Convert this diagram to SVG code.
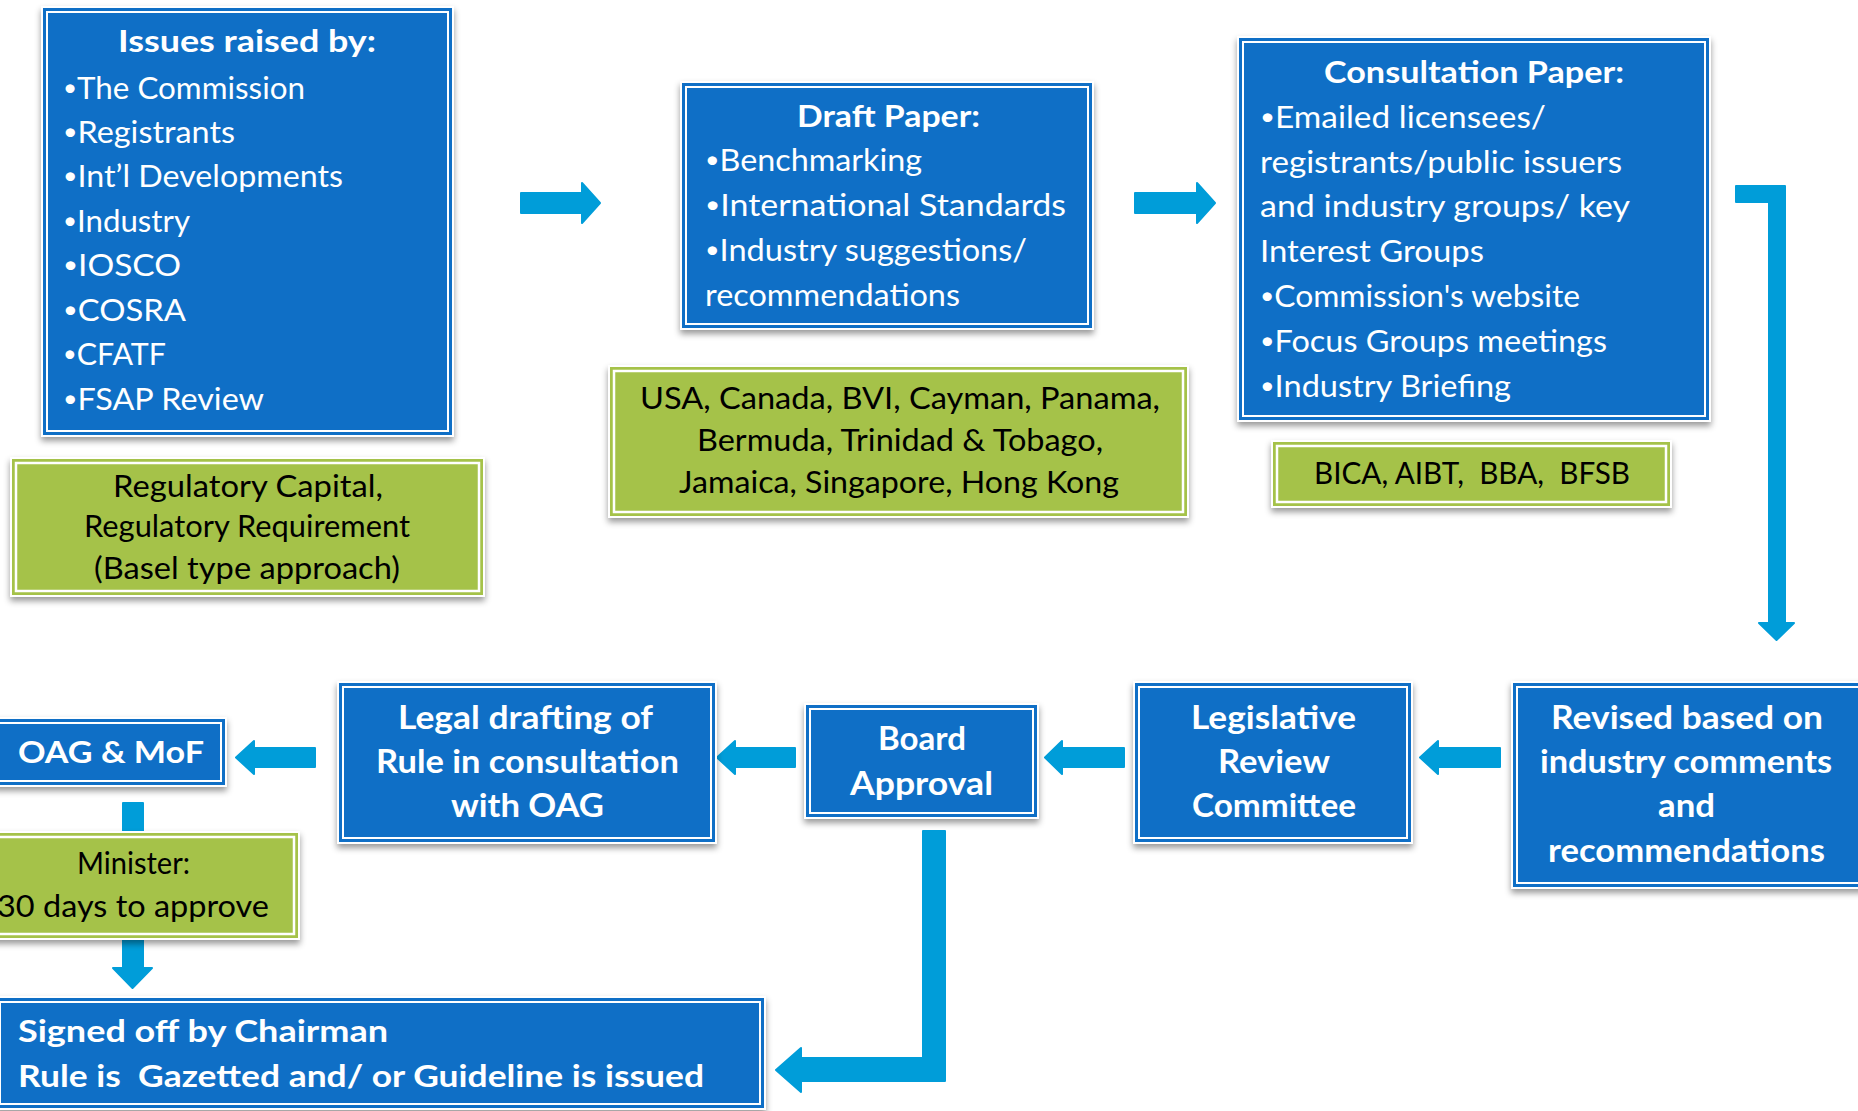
<svg xmlns="http://www.w3.org/2000/svg" width="1858" height="1111" viewBox="0 0 1858 1111">
  <defs>
    <filter id="drop" x="-10%" y="-10%" width="120%" height="130%">
      <feDropShadow dx="0" dy="4" stdDeviation="3" flood-color="#000" flood-opacity="0.4"/>
    </filter>
  </defs>
  <style>
    .halo { fill: #ffffff; filter: url(#drop); }
    .blue { fill: #0F6FC6; }
    .green { fill: #A5C249; }
    .inner { fill: none; stroke: #ffffff; stroke-width: 2; }
    .innerg { fill: none; stroke: #ffffff; stroke-width: 2.5; }
    .arrow { fill: #009DD9; stroke: #009DD9; stroke-width: 2; stroke-linejoin: round; }
    text { font-family: Lato, "Liberation Sans", sans-serif; }
    .w { fill: #ffffff; font-size: 31px; }
    .wb { fill: #ffffff; font-size: 31px; font-weight: bold; }
    .wbb { fill: #ffffff; font-size: 33px; font-weight: bold; }
    .k { fill: #000000; font-size: 31px; }
    .pre { white-space: pre; }
    .bul { font-size: 24px; baseline-shift: 3px; }
  </style>

  <rect width="1858" height="1111" fill="#ffffff"/>

  <!-- connectors -->
  <g id="connectors">
    <path class="arrow" d="M521,193 H582 V183 L600,203 L582,223 V213 H521 Z"/>
    <path class="arrow" d="M1135,193 H1197 V183 L1215,203 L1197,223 V213 H1135 Z"/>
    <path class="arrow" d="M1736,186 H1785 V623 H1794 L1776.5,640 L1759,623 H1769 V202 H1736 Z"/>
    <path class="arrow" d="M1500,748 H1438 V741 L1420,757.5 L1438,774 V767 H1500 Z"/>
    <path class="arrow" d="M1124,748 H1062 V741 L1045,757.5 L1062,774 V767 H1124 Z"/>
    <path class="arrow" d="M795,748 H735 V741 L717,757.5 L735,774 V767 H795 Z"/>
    <path class="arrow" d="M315,748 H254 V741 L236,757.5 L254,774 V767 H315 Z"/>
    <path class="arrow" d="M123,803 H143 V968 H152 L132.5,988 L113,968 H123 Z"/>
    <path class="arrow" d="M923,831 H945 V1081 H801 V1092 L776,1070 L801,1048 V1058 H923 Z"/>
  </g>

  <!-- Issues raised by -->
  <g id="issues">
    <rect class="halo" x="41" y="6" width="413" height="431"/>
    <rect class="blue" x="43" y="8" width="409" height="427"/>
    <rect class="inner" x="47" y="12" width="401" height="419"/>
    <text class="wb" x="118" y="52" textLength="258" lengthAdjust="spacingAndGlyphs">Issues raised by:</text>
    <text class="w" x="63" y="99" textLength="242" lengthAdjust="spacingAndGlyphs"><tspan class="bul">•</tspan>The Commission</text>
    <text class="w" x="63" y="143" textLength="172" lengthAdjust="spacingAndGlyphs"><tspan class="bul">•</tspan>Registrants</text>
    <text class="w" x="63" y="187" textLength="280" lengthAdjust="spacingAndGlyphs"><tspan class="bul">•</tspan>Int’l Developments</text>
    <text class="w" x="63" y="232" textLength="127" lengthAdjust="spacingAndGlyphs"><tspan class="bul">•</tspan>Industry</text>
    <text class="w" x="63" y="276" textLength="118" lengthAdjust="spacingAndGlyphs"><tspan class="bul">•</tspan>IOSCO</text>
    <text class="w" x="63" y="321" textLength="123" lengthAdjust="spacingAndGlyphs"><tspan class="bul">•</tspan>COSRA</text>
    <text class="w" x="63" y="365" textLength="103" lengthAdjust="spacingAndGlyphs"><tspan class="bul">•</tspan>CFATF</text>
    <text class="w" x="63" y="410" textLength="201" lengthAdjust="spacingAndGlyphs"><tspan class="bul">•</tspan>FSAP Review</text>
  </g>

  <!-- Regulatory capital note -->
  <g id="regulatory">
    <rect class="halo" x="10" y="457" width="475" height="140"/>
    <rect class="green" x="12" y="459" width="471" height="136"/>
    <rect class="innerg" x="16" y="463" width="463" height="128"/>
    <text class="k" x="113" y="497" textLength="270" lengthAdjust="spacingAndGlyphs">Regulatory Capital,</text>
    <text class="k" x="84" y="537" textLength="326" lengthAdjust="spacingAndGlyphs">Regulatory Requirement</text>
    <text class="k" x="94" y="579" textLength="306" lengthAdjust="spacingAndGlyphs">(Basel type approach)</text>
  </g>

  <!-- Draft Paper -->
  <g id="draft">
    <rect class="halo" x="680" y="81" width="414" height="249"/>
    <rect class="blue" x="682" y="83" width="410" height="245"/>
    <rect class="inner" x="686" y="87" width="402" height="237"/>
    <text class="wb" x="797" y="127" textLength="183" lengthAdjust="spacingAndGlyphs">Draft Paper:</text>
    <text class="w" x="705" y="171" textLength="217" lengthAdjust="spacingAndGlyphs"><tspan class="bul">•</tspan>Benchmarking</text>
    <text class="w" x="705" y="216" textLength="361" lengthAdjust="spacingAndGlyphs"><tspan class="bul">•</tspan>International Standards</text>
    <text class="w" x="705" y="261" textLength="322" lengthAdjust="spacingAndGlyphs"><tspan class="bul">•</tspan>Industry suggestions/</text>
    <text class="w" x="705" y="306" textLength="255" lengthAdjust="spacingAndGlyphs">recommendations</text>
  </g>

  <!-- Benchmark jurisdictions -->
  <g id="jurisdictions">
    <rect class="halo" x="608" y="365" width="581" height="153"/>
    <rect class="green" x="610" y="367" width="577" height="149"/>
    <rect class="innerg" x="614" y="371" width="569" height="141"/>
    <text class="k" x="640" y="409" textLength="520" lengthAdjust="spacingAndGlyphs">USA, Canada, BVI, Cayman, Panama,</text>
    <text class="k" x="697" y="451" textLength="406" lengthAdjust="spacingAndGlyphs">Bermuda, Trinidad &amp; Tobago,</text>
    <text class="k" x="679" y="493" textLength="440" lengthAdjust="spacingAndGlyphs">Jamaica, Singapore, Hong Kong</text>
  </g>

  <!-- Consultation Paper -->
  <g id="consultation">
    <rect class="halo" x="1237" y="36" width="474" height="386"/>
    <rect class="blue" x="1239" y="38" width="470" height="382"/>
    <rect class="inner" x="1243" y="42" width="462" height="374"/>
    <text class="wb" x="1324" y="83" textLength="300" lengthAdjust="spacingAndGlyphs">Consultation Paper:</text>
    <text class="w" x="1260" y="128" textLength="286" lengthAdjust="spacingAndGlyphs"><tspan class="bul">•</tspan>Emailed licensees/</text>
    <text class="w" x="1260" y="173" textLength="362" lengthAdjust="spacingAndGlyphs">registrants/public issuers</text>
    <text class="w" x="1260" y="217" textLength="370" lengthAdjust="spacingAndGlyphs">and industry groups/ key</text>
    <text class="w" x="1260" y="262" textLength="224" lengthAdjust="spacingAndGlyphs">Interest Groups</text>
    <text class="w" x="1260" y="307" textLength="320" lengthAdjust="spacingAndGlyphs"><tspan class="bul">•</tspan>Commission's website</text>
    <text class="w" x="1260" y="352" textLength="347" lengthAdjust="spacingAndGlyphs"><tspan class="bul">•</tspan>Focus Groups meetings</text>
    <text class="w" x="1260" y="397" textLength="251" lengthAdjust="spacingAndGlyphs"><tspan class="bul">•</tspan>Industry Briefing</text>
  </g>

  <!-- Industry associations -->
  <g id="associations">
    <rect class="halo" x="1271" y="440" width="401" height="68"/>
    <rect class="green" x="1273" y="442" width="397" height="64"/>
    <rect class="innerg" x="1277" y="446" width="389" height="56"/>
    <text class="k pre" x="1314" y="484" textLength="316" lengthAdjust="spacingAndGlyphs">BICA, AIBT,  BBA,  BFSB</text>
  </g>

  <!-- Revised based on comments -->
  <g id="revised">
    <rect class="halo" x="1511" y="681" width="354" height="208"/>
    <rect class="blue" x="1513" y="683" width="350" height="204"/>
    <rect class="inner" x="1517" y="687" width="342" height="196"/>
    <text class="wbb" x="1551" y="729" textLength="272" lengthAdjust="spacingAndGlyphs">Revised based on</text>
    <text class="wbb" x="1540" y="773" textLength="292" lengthAdjust="spacingAndGlyphs">industry comments</text>
    <text class="wbb" x="1658" y="817" textLength="57" lengthAdjust="spacingAndGlyphs">and</text>
    <text class="wbb" x="1548" y="862" textLength="277" lengthAdjust="spacingAndGlyphs">recommendations</text>
  </g>

  <!-- Legislative Review Committee -->
  <g id="legislative">
    <rect class="halo" x="1133" y="681" width="280" height="163"/>
    <rect class="blue" x="1135" y="683" width="276" height="159"/>
    <rect class="inner" x="1139" y="687" width="268" height="151"/>
    <text class="wbb" x="1191" y="729" textLength="165" lengthAdjust="spacingAndGlyphs">Legislative</text>
    <text class="wbb" x="1218" y="773" textLength="112" lengthAdjust="spacingAndGlyphs">Review</text>
    <text class="wbb" x="1192" y="817" textLength="164" lengthAdjust="spacingAndGlyphs">Committee</text>
  </g>

  <!-- Board Approval -->
  <g id="board">
    <rect class="halo" x="804" y="703" width="235" height="116"/>
    <rect class="blue" x="806" y="705" width="231" height="112"/>
    <rect class="inner" x="810" y="709" width="223" height="104"/>
    <text class="wbb" x="878" y="750" textLength="88" lengthAdjust="spacingAndGlyphs">Board</text>
    <text class="wbb" x="850" y="795" textLength="143" lengthAdjust="spacingAndGlyphs">Approval</text>
  </g>

  <!-- Legal drafting -->
  <g id="legal">
    <rect class="halo" x="337" y="681" width="380" height="163"/>
    <rect class="blue" x="339" y="683" width="376" height="159"/>
    <rect class="inner" x="343" y="687" width="368" height="151"/>
    <text class="wbb" x="398" y="729" textLength="255" lengthAdjust="spacingAndGlyphs">Legal drafting of</text>
    <text class="wbb" x="376" y="773" textLength="303" lengthAdjust="spacingAndGlyphs">Rule in consultation</text>
    <text class="wbb" x="451" y="817" textLength="153" lengthAdjust="spacingAndGlyphs">with OAG</text>
  </g>

  <!-- OAG & MoF -->
  <g id="oag">
    <rect class="halo" x="-7" y="717" width="234" height="70"/>
    <rect class="blue" x="-5" y="719" width="230" height="66"/>
    <rect class="inner" x="-1" y="723" width="222" height="58"/>
    <text class="wb" x="18" y="763" textLength="186" lengthAdjust="spacingAndGlyphs">OAG &amp; MoF</text>
  </g>

  <!-- Minister approval period -->
  <g id="minister">
    <rect class="halo" x="-12" y="831" width="312" height="109"/>
    <rect class="green" x="-10" y="833" width="308" height="105"/>
    <rect class="innerg" x="-6" y="837" width="300" height="97"/>
    <text class="k" x="77" y="874" textLength="113" lengthAdjust="spacingAndGlyphs">Minister:</text>
    <text class="k" x="-3" y="917" textLength="272" lengthAdjust="spacingAndGlyphs">30 days to approve</text>
  </g>

  <!-- Sign-off and gazetting -->
  <g id="signed">
    <rect class="halo" x="-6" y="996" width="772" height="114"/>
    <rect class="blue" x="-4" y="998" width="768" height="110"/>
    <rect class="inner" x="0" y="1002" width="760" height="102"/>
    <text class="wb" x="18" y="1042" textLength="370" lengthAdjust="spacingAndGlyphs">Signed off by Chairman</text>
    <text class="wb pre" x="18" y="1087" textLength="686" lengthAdjust="spacingAndGlyphs">Rule is  Gazetted and/ or Guideline is issued</text>
  </g>
</svg>
